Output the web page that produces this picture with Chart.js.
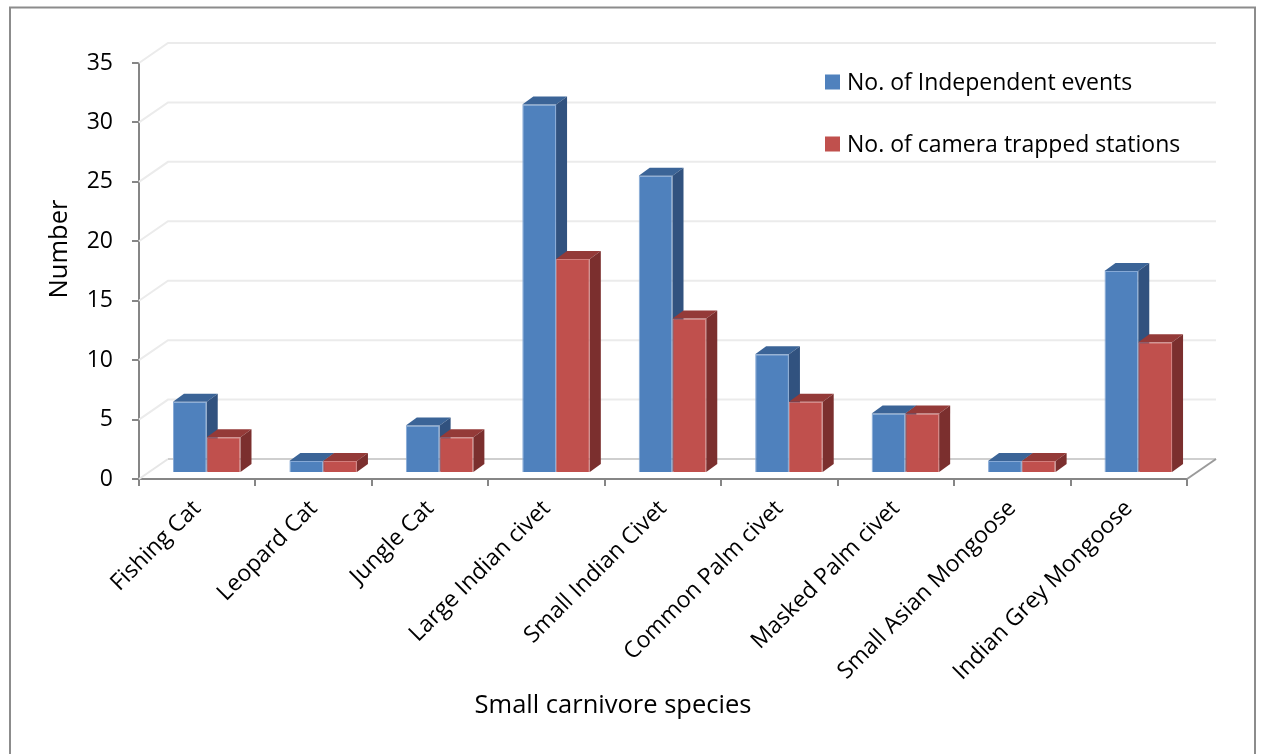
<!DOCTYPE html>
<html>
<head>
<meta charset="utf-8">
<script src="https://cdn.jsdelivr.net/npm/chart.js@4/dist/chart.umd.min.js"></script>
<style>
  html, body { margin: 0; padding: 0; background: #fff; }
  canvas { display: block; }
</style>
</head>
<body>
<canvas id="myChart" width="1262" height="754"></canvas>
<script>
const categories = ['Fishing Cat', 'Leopard Cat', 'Jungle Cat', 'Large Indian civet', 'Small Indian Civet',
    'Common Palm civet', 'Masked Palm civet', 'Small Asian Mongoose', 'Indian Grey Mongoose']
const independentEvents = [6, 1, 4, 31, 25, 10, 5, 1, 17]
const trappedStations = [3, 1, 3, 18, 13, 6, 5, 1, 11]
const seriesNames = ['No. of Independent events', 'No. of camera trapped stations']
const yTitle = 'Number'
const xTitle = 'Small carnivore species'

const FONT = '"Open Sans", "DejaVu Sans", sans-serif'
// depth of the back wall and of the columns (oblique 3d look)
const WALL_DX = 29, WALL_DY = -20
const BAR_DX = 11, BAR_DY = -8
const PLANE_DX = 9.5, PLANE_DY = -6

const faceColors = [
    { top: '#3b6497', side: '#31527f' },
    { top: '#943a38', side: '#7b2f2e' }
]

function line(ctx, pts, color, width) {
    ctx.beginPath()
    ctx.moveTo(pts[0][0], pts[0][1])
    pts.slice(1).forEach(p => ctx.lineTo(p[0], p[1]))
    ctx.strokeStyle = color
    ctx.lineWidth = width
    ctx.stroke()
}

function poly(ctx, pts, color) {
    ctx.beginPath()
    ctx.moveTo(pts[0][0], pts[0][1])
    pts.slice(1).forEach(p => ctx.lineTo(p[0], p[1]))
    ctx.closePath()
    ctx.fillStyle = color
    ctx.fill()
}

const threeD = {
    id: 'threeD',
    beforeDatasetsDraw(chart) {
        const ctx = chart.ctx
        const { left, right } = chart.chartArea
        const y = chart.scales.y
        ctx.save()
        y.ticks.forEach(t => {
            const py = y.getPixelForValue(t.value)
            if (t.value === 0) {
                line(ctx, [[left, py], [left + WALL_DX, py + WALL_DY]], '#e6e6e6', 2)
                line(ctx, [[left + WALL_DX, py + WALL_DY], [right + WALL_DX, py + WALL_DY]], '#cfcfcf', 2)
                line(ctx, [[right, py], [right + WALL_DX, py + WALL_DY]], '#9a9a9a', 2)
            } else {
                line(ctx, [[left, py], [left + WALL_DX, py + WALL_DY], [right + WALL_DX, py + WALL_DY]], '#ebebeb', 2)
            }
        })
        ctx.restore()
    },
    beforeDatasetDraw() {
        return false
    },
    afterDatasetsDraw(chart) {
        const ctx = chart.ctx
        ctx.save()
        ctx.translate(PLANE_DX, PLANE_DY)
        chart.data.datasets.forEach((ds, i) => {
            const meta = chart.getDatasetMeta(i)
            meta.data.forEach(bar => {
                bar.draw(ctx)
                const x0 = bar.x - bar.width / 2, x1 = bar.x + bar.width / 2
                const top = bar.y, base = bar.base
                poly(ctx, [[x0, top], [x1, top], [x1 + BAR_DX, top + BAR_DY], [x0 + BAR_DX, top + BAR_DY]], faceColors[i].top)
                poly(ctx, [[x1, top], [x1 + BAR_DX, top + BAR_DY], [x1 + BAR_DX, base + BAR_DY], [x1, base]], faceColors[i].side)
            })
        })
        ctx.restore()
    },
    afterDraw(chart) {
        const ctx = chart.ctx
        ctx.save()
        // legend
        ctx.font = '23px ' + FONT
        ctx.textBaseline = 'middle'
        ctx.textAlign = 'left'
        chart.data.datasets.forEach((ds, i) => {
            const ly = 82 + i * 62
            ctx.fillStyle = ds.backgroundColor
            ctx.fillRect(825, ly - 7.5, 15, 15)
            ctx.fillStyle = '#000'
            ctx.fillText(ds.label, 847, ly + 1)
        })
        // axis titles
        ctx.font = '25.5px ' + FONT
        ctx.textAlign = 'center'
        ctx.fillText(xTitle, 613, 706)
        ctx.translate(60, 249)
        ctx.rotate(-Math.PI / 2)
        ctx.fillText(yTitle, 0, 0)
        ctx.restore()
        // chart border
        ctx.save()
        line(ctx, [[10, 760], [10, 7.5], [1255, 7.5], [1255, 760]], '#8c8c8c', 2)
        ctx.restore()
    }
}

new Chart(document.getElementById('myChart').getContext('2d'), {
    type: 'bar',
    data: {
        labels: categories,
        datasets: [{
            label: seriesNames[0],
            data: independentEvents,
            backgroundColor: '#4f81bd',
            borderColor: '#86a9d6',
            borderWidth: 1,
            categoryPercentage: 0.58,
            barPercentage: 1
        },
        {
            label: seriesNames[1],
            data: trappedStations,
            backgroundColor: '#c0504d',
            borderColor: '#d27e7c',
            borderWidth: 1,
            categoryPercentage: 0.58,
            barPercentage: 1
        }]
    },
    options: {
        responsive: false,
        animation: false,
        devicePixelRatio: 1,
        layout: { padding: { left: 0, top: 63, right: 75, bottom: 0 } },
        plugins: { legend: { display: false }, tooltip: { enabled: false } },
        scales: {
            x: {
                afterFit: scale => { scale.height = 275 },
                grid: { drawOnChartArea: false, tickLength: 7, color: '#868686', lineWidth: 2 },
                border: { color: '#868686', width: 2 },
                ticks: {
                    minRotation: 45,
                    maxRotation: 45,
                    autoSkip: false,
                    padding: 9,
                    color: '#000',
                    font: { family: FONT, size: 23 }
                }
            },
            y: {
                min: 0,
                max: 35,
                afterFit: scale => { scale.width = 139 },
                grid: { drawOnChartArea: false, tickLength: 7, color: '#868686', lineWidth: 2 },
                border: { color: '#868686', width: 2 },
                ticks: {
                    stepSize: 5,
                    padding: 19,
                    color: '#000',
                    font: { family: FONT, size: 23 }
                }
            }
        }
    },
    plugins: [threeD]
})
</script>
</body>
</html>
